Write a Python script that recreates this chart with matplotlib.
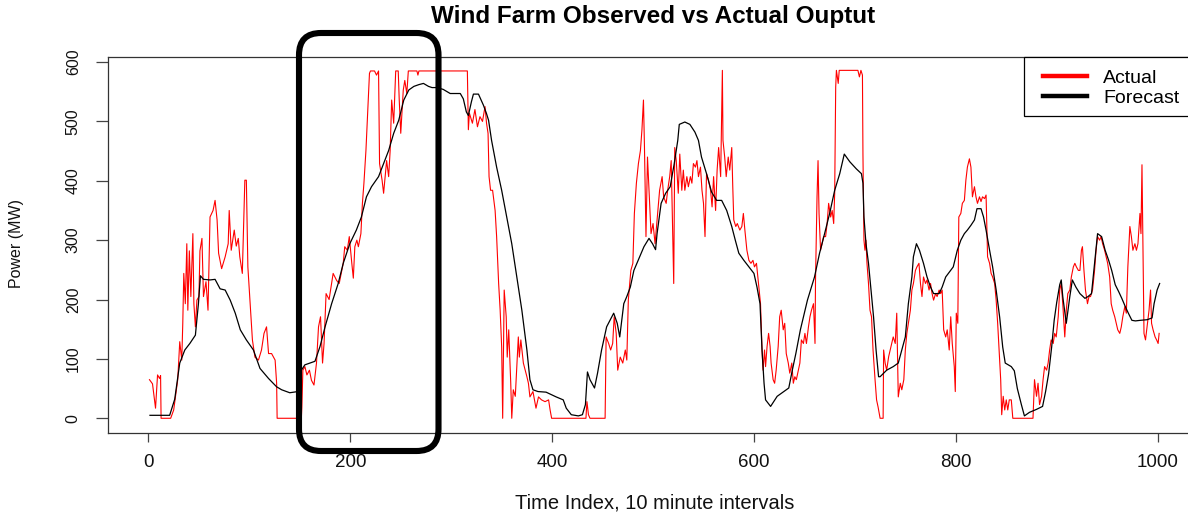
import matplotlib
matplotlib.use("Agg")
import matplotlib.pyplot as plt
from matplotlib.lines import Line2D
from matplotlib.patches import FancyBboxPatch, Rectangle
from matplotlib.transforms import Affine2D

plt.rcParams['font.family'] = ['Liberation Sans', 'DejaVu Sans']

# ---------------- data: (time index, MW) ----------------
actual_points = [
    (1, 65), (4, 58), (7, 17), (9, 73), (11, 67), (12, 72), (12.5, 0), (22, 0), (25, 14), (29, 65),
    (31, 129), (33, 98), (34, 160), (35, 244), (36.5, 193), (38, 294), (39, 182), (40.5, 282), (42, 205),
    (44, 311), (45, 193), (46.5, 154), (48, 199), (50, 205), (51, 282), (53, 303), (54.5, 205), (57, 230),
    (59, 182), (61, 339), (64, 350), (66, 367), (68, 334), (69.5, 278), (72.5, 252), (76, 272), (79, 294),
    (80, 350), (82, 283), (85, 317), (87, 290), (89, 303), (90.5, 272), (93, 244), (95.5, 401), (97, 401),
    (98.5, 255), (100.5, 199), (103, 132), (105.5, 103), (109, 98), (112, 115), (114.5, 143), (117, 154),
    (119, 109), (122, 109), (125.5, 98), (127, 59), (127.5, 0), (151.5, 0),
    (152, 19), (153, 81), (155, 87), (157, 73), (159.5, 81), (161.5, 64), (164, 56), (166.5, 93),
    (168.5, 154), (170.5, 171), (172.5, 93), (174, 126), (176, 210), (179, 200), (181.5, 227), (183, 244),
    (186.5, 232), (189, 227), (193, 261), (194.5, 289), (197, 283), (199, 306), (201.5, 261), (203, 236),
    (204.5, 289), (206.5, 300), (208, 289), (210.5, 311), (212, 362), (213.5, 396), (215.5, 451), (217, 508),
    (219, 581), (220, 585), (224, 585), (226, 578), (228, 585), (229, 429), (231.5, 401), (233, 379),
    (236, 434), (238, 407), (239.5, 451), (241, 536), (243, 497), (245, 585), (247.5, 585), (248.5, 536),
    (250, 480), (252.5, 553), (254, 569), (256, 547), (257.5, 585), (266, 585), (267, 578), (268, 585),
    (316, 585), (317, 486), (318, 514), (321, 497), (323.5, 520), (326, 491), (328.5, 508), (331, 500),
    (333.5, 525), (335, 497), (336.5, 480), (337.5, 407), (339, 384), (341, 384), (343.5, 350), (345, 306),
    (347, 227), (348.5, 182), (350, 120), (351, 0), (352.5, 216), (354.5, 171), (355.5, 103), (357, 149),
    (359, 59), (360, 0), (361.5, 48), (363.5, 37), (365, 87), (366.5, 137), (367.5, 103), (369, 132),
    (371.5, 93), (375, 70), (376.5, 59), (378, 36), (381, 45), (384, 17), (386.5, 36), (389.5, 31),
    (393, 28), (396.5, 31), (398, 14), (399.5, 0), (433.5, 0), (434.5, 28), (436, 6), (437.5, 0),
    (452.5, 0), (453.5, 137), (456, 126), (458, 115), (460, 126), (461.5, 171), (463.5, 143), (465, 81),
    (467.5, 103), (470, 93), (472.5, 115), (474, 98), (475.5, 199), (478, 249), (480, 261), (481.5, 345),
    (483.5, 396), (485.5, 429), (487.5, 451), (489, 486), (490.5, 536), (491.5, 457), (493, 306),
    (494.5, 440), (496.5, 367), (498, 311), (500, 328), (502, 294), (504, 334), (506.5, 384), (509, 407),
    (510.5, 373), (513, 362), (514.5, 384), (516.5, 407), (518, 434), (519.5, 306), (520.5, 227),
    (521.5, 456), (523, 434), (525, 379), (526.5, 445), (528.5, 384), (530, 418), (531.5, 384),
    (533.5, 407), (535, 390), (537, 407), (538.5, 396), (540, 429), (542, 423), (543.5, 434), (545, 407),
    (547, 423), (548.5, 384), (550, 362), (551.5, 306), (553, 412), (555, 401), (557, 384), (558.5, 356),
    (560, 407), (562, 350), (563.5, 418), (565, 456), (567, 407), (568, 519), (568.7, 586), (569.3, 468),
    (571, 440), (572.5, 407), (574.5, 440), (576, 418), (578, 456), (579, 390), (580, 334), (582, 323),
    (583.5, 328), (586, 317), (588, 323), (589.5, 345), (591, 317), (593, 283), (595, 266), (597, 261),
    (599, 266), (600.5, 255), (602.5, 261), (604.5, 227), (606.5, 193), (608, 115), (609, 81),
    (610.5, 115), (611.5, 87), (613, 121), (614.5, 143), (616, 121), (617, 93), (619, 65), (620.5, 59),
    (622, 81), (624, 121), (625.5, 171), (627, 182), (629, 149), (630.5, 160), (632, 109), (634, 93),
    (635.5, 76), (637.5, 93), (639, 59), (640.5, 70), (642, 65), (644, 81), (645.5, 93), (647, 132),
    (649, 126), (650.5, 143), (652, 126), (654, 154), (655.5, 171), (657, 182), (659, 193), (660.5, 126),
    (661, 233), (662.5, 373), (663.5, 434), (664.5, 345), (666, 283), (667.5, 294), (669, 306), (671, 306),
    (672.5, 328), (674, 362), (676, 339), (677.5, 350), (679, 328), (680, 379), (681, 558), (681.7, 586),
    (683.5, 564), (684.5, 586), (703, 586), (704.5, 575), (706, 586), (707.5, 578), (708, 445), (709, 300),
    (710, 283), (711, 300), (712, 261), (713.5, 227), (715, 182), (716.5, 171), (718, 115), (720, 65),
    (721.5, 31), (723, 19), (725, 0), (728, 0), (728.5, 115), (730, 93), (731.5, 81), (733.5, 104),
    (735, 115), (736.5, 126), (738, 137), (740, 126), (741.5, 177), (743, 36), (745, 59), (746.5, 48),
    (748.5, 65), (750, 115), (751.5, 143), (753, 160), (755, 182), (756.5, 216), (758, 227), (760, 249),
    (761.5, 255), (763.5, 261), (765, 227), (766.5, 205), (768, 238), (770, 227), (771.5, 233),
    (773.5, 216), (775, 227), (776.5, 210), (778, 199), (780, 210), (781.5, 205), (783.5, 216), (785, 210),
    (786.5, 216), (788, 149), (790, 137), (791.5, 149), (793.5, 115), (795, 171), (796.5, 126), (798.5, 87),
    (799.5, 45), (800.5, 177), (802, 160), (803, 339), (805, 345), (806.5, 362), (808.5, 367), (810, 401),
    (811.5, 423), (813.5, 437), (815, 423), (816.5, 373), (818.5, 390), (820, 373), (821.5, 362),
    (823.5, 373), (825, 365), (826.5, 373), (828.5, 370), (830, 376), (831.5, 272), (833.5, 261),
    (835, 244), (836.5, 238), (838.5, 227), (840, 199), (841.5, 160), (843.5, 98), (844.5, 65),
    (845.5, 6), (847, 37), (848.5, 14), (850, 31), (851.5, 14), (853, 31), (855, 31), (856.5, 0),
    (876.5, 0), (878, 65), (880, 37), (881.5, 59), (883, 23), (885, 37), (886.5, 65), (888, 87), (890, 81),
    (891.5, 93), (893, 115), (894.5, 132), (896.5, 126), (898, 143), (899.5, 137), (901.5, 171), (903, 216),
    (904.5, 227), (906, 193), (908, 137), (909.5, 182), (911, 210), (913, 216), (914.5, 238), (916.5, 255),
    (918, 261), (919.5, 255), (921.5, 249), (923, 249), (924.5, 283), (925.5, 289), (927, 249), (928.5, 216),
    (930.5, 193), (932, 205), (933.5, 205), (935.5, 216), (937.5, 249), (939, 283), (940.5, 306),
    (942.5, 300), (944, 306), (945.5, 294), (947.5, 283), (949, 272), (950.5, 261), (952.5, 238),
    (954, 193), (955.5, 182), (957.5, 171), (959, 160), (960.5, 149), (962.5, 143), (964, 154),
    (965.5, 171), (967.5, 188), (969, 177), (970.5, 255), (972.5, 323), (974, 306), (975.5, 283),
    (977.5, 294), (979, 283), (980.5, 294), (982.5, 345), (983.5, 311), (984.5, 427), (985.5, 283),
    (986.5, 143), (988, 132), (989.5, 154), (991.5, 182), (993, 216), (994, 160), (995.5, 149),
    (997.5, 137), (999, 132), (1000.5, 126), (1001.5, 143),
]

forecast_points = [
    (1.5, 5), (21, 5), (26, 32), (31, 93), (36, 115), (41, 126), (46.5, 140), (49.5, 193), (51.5, 240),
    (54.5, 234), (61, 233), (66, 234), (71, 218), (76, 216), (81, 199), (86, 177), (91, 149), (97, 132),
    (104, 115), (110.5, 84), (119, 67), (127, 53), (132, 48), (140, 43), (148, 45), (151.5, 81), (155, 90),
    (165, 96), (170, 121), (175, 154), (181.5, 193), (188, 227), (193, 261), (199.5, 294), (206, 317),
    (211, 339), (216, 373), (221, 390), (228, 407), (233, 429), (238, 451), (243, 480), (248, 502),
    (253, 536), (258, 553), (263, 559), (268, 562), (272.5, 564), (277.5, 559), (281, 557), (285.5, 557),
    (292, 554), (299, 547), (309, 547), (312, 538), (315, 516), (317, 510), (320, 533), (322, 546),
    (327, 546), (332, 527), (335, 513), (337, 502), (340, 468), (345, 423), (350, 384), (355, 339),
    (360, 294), (365, 238), (370, 182), (375, 115), (378, 65), (381, 48), (386, 45), (394, 44), (404, 36),
    (411, 31), (414, 17), (419, 6), (426, 4), (430, 6), (433, 23), (435, 78), (437.5, 65), (442, 51),
    (445, 76), (449, 115), (454, 154), (461, 177), (464.5, 160), (467, 137), (471, 193), (474, 205),
    (477.5, 221), (481, 249), (486, 269), (491, 289), (496, 303), (499.5, 294), (502.5, 284), (504, 311),
    (508, 362), (512.5, 379), (517, 390), (521, 429), (524.5, 468), (526, 495), (531.5, 499), (536.5, 495),
    (541.5, 482), (545, 468), (548, 440), (553, 412), (558, 381), (563, 367), (568, 367), (573, 350),
    (578, 323), (581.5, 300), (585, 278), (590, 266), (595, 255), (600, 244), (603, 221), (606, 193),
    (608, 115), (610, 59), (611.5, 31), (616.5, 20), (623, 37), (629.5, 45), (634.5, 51), (638, 81),
    (641.5, 109), (646, 149), (653, 199), (660, 238), (665, 278), (670, 311), (675, 345), (680, 384),
    (685, 412), (689.5, 445), (695, 432), (701.5, 420), (706.5, 412), (708, 396), (709, 339), (711, 294),
    (713.5, 261), (716, 216), (718.5, 171), (721, 115), (723.5, 70), (725, 70), (731.5, 81), (738, 87),
    (743, 93), (746.5, 115), (750, 137), (753, 193), (756.5, 238), (758, 272), (761, 294), (764, 283),
    (768, 261), (771.5, 238), (775, 221), (778, 210), (783.5, 210), (786.5, 221), (790, 238), (794, 247),
    (797.5, 255), (801.5, 283), (805, 300), (808.5, 311), (811.5, 317), (815, 325), (818.5, 334),
    (821, 353), (825, 353), (827.5, 339), (830, 317), (833.5, 283), (836.5, 255), (840, 216),
    (843.5, 170), (846.5, 120), (849, 93), (855, 87), (858, 80), (861, 50), (865, 23), (868, 4), (873, 10),
    (880, 15), (886, 20), (889, 45), (892, 75), (895, 120), (897.5, 165), (900, 195), (903, 225),
    (904.5, 233), (906, 205), (909.5, 160), (913, 205), (915.5, 233), (919, 221), (923, 210), (928, 202),
    (931, 205), (934.5, 210), (937.5, 261), (940.5, 311), (944.5, 306), (948, 283), (951.5, 266),
    (954.5, 249), (958, 225), (961.5, 213), (964.5, 202), (968, 188), (971, 177), (974.5, 165), (978, 164),
    (983, 165), (989.5, 166), (994.5, 169), (996.5, 193), (999.5, 216), (1002, 227),
]

x_ticks = [0, 200, 400, 600, 800, 1000]
y_ticks = [0, 100, 200, 300, 400, 500, 600]
series_labels = ["Actual", "Forecast"]
title_text = "Wind Farm Observed vs Actual Ouptut"
x_label = "Time Index, 10 minute intervals"
y_label = "Power (MW)"

actual_idx = [p[0] for p in actual_points]
actual_mw = [p[1] for p in actual_points]
forecast_idx = [p[0] for p in forecast_points]
forecast_mw = [p[1] for p in forecast_points]

# ---------------- figure ----------------
W, H = 1188, 514
fig = plt.figure(figsize=(W / 100, H / 100), dpi=100)
fig.patch.set_facecolor('white')
px = Affine2D().scale(1 / W, 1 / H) + fig.transFigure   # pixel coords (origin bottom-left)

# axes box in pixel terms (extends slightly beyond the right edge, like the reference)
L, R, T, B = 108, 1200, 57, 433
ax = fig.add_axes([L / W, (H - B) / H, (R - L) / W, (B - T) / H])

ax.plot(actual_idx, actual_mw, color='#ff0000', lw=0.8, zorder=2)
ax.plot(forecast_idx, forecast_mw, color='black', lw=0.9, zorder=3)

ax.set_xlim(-40.1, 1042)
ax.set_ylim(-24.8, 608.5)
ax.set_xticks(x_ticks)
ax.set_yticks(y_ticks)
ax.set_xticklabels([str(v) for v in x_ticks], fontsize=13.5)
ax.set_yticklabels([str(v) for v in y_ticks], fontsize=11.5, rotation=90, va='center')

for s in ['left', 'bottom', 'top']:
    ax.spines[s].set_color('#333333')
    ax.spines[s].set_linewidth(0.9)
ax.spines['right'].set_visible(False)

ax.tick_params(axis='x', direction='out', length=6.5, width=0.9, color='#444444', pad=8.3, labelcolor='#111111')
ax.tick_params(axis='y', direction='out', length=8.6, width=0.9, color='#444444', pad=11, labelcolor='#111111')

# title and axis labels
fig.text(653.5 / W, 1 - 17 / H, title_text, ha='center', va='center', fontsize=17.5, fontweight='bold')
fig.text(654.5 / W, 1 - 503 / H, x_label, ha='center', va='center', fontsize=14.5, color='#111111')
fig.text(16.5 / W, 1 - 244 / H, y_label, ha='center', va='center', fontsize=11.5, rotation=90, color='#111111')

# legend: frame drawn as its own box (it runs past the right edge), entries via fig.legend on top
frame = Rectangle((1024, H - 116), 190, 59, transform=px, fill=True, fc='white', ec='black',
                  lw=0.9, clip_on=False, zorder=6)
fig.add_artist(frame)
handles = [Line2D([], [], color='#ff0000', lw=3.2), Line2D([], [], color='black', lw=3.2)]
fs = 14
fs_px = fs * 100 / 72
leg = fig.legend(handles, series_labels, loc='upper left',
                 bbox_to_anchor=(1043 / W, (H - 69) / H),
                 bbox_transform=fig.transFigure, borderaxespad=0, borderpad=0, fontsize=fs,
                 handlelength=44 / fs_px, handletextpad=16 / fs_px,
                 labelspacing=0.13, frameon=False)
leg.set_zorder(7)

# highlight box (rounded rectangle) drawn in pixel units
hl = FancyBboxPatch((299, H - 451), 139.5, 418, boxstyle='round,pad=0,rounding_size=22',
                    transform=px, fill=False, ec='black', lw=4.4, clip_on=False, zorder=10)
fig.add_artist(hl)

fig.savefig('out.png', dpi=100, facecolor='white')
